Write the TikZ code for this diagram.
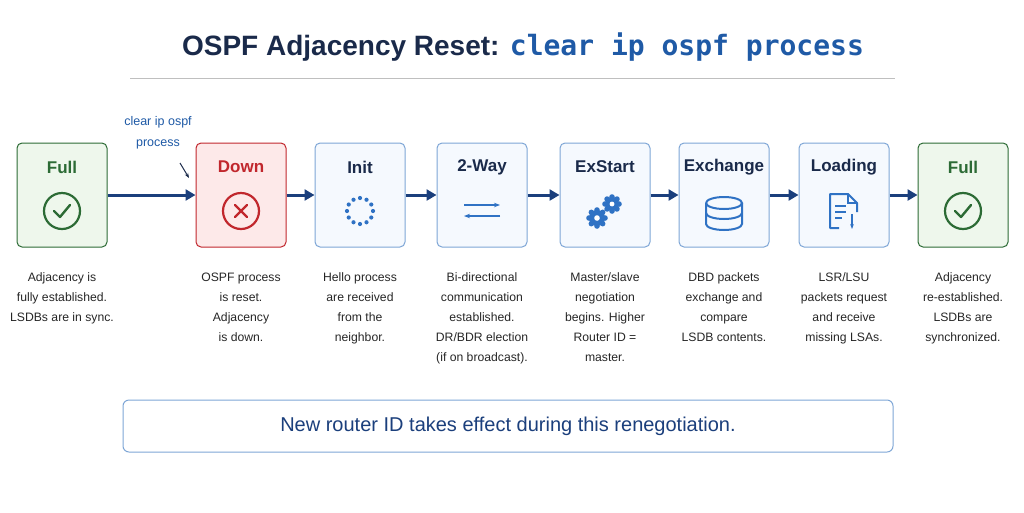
\documentclass[tikz,border=0pt]{standalone}
\usepackage{fontspec}
\setmainfont{Liberation Sans}
\setmonofont{DejaVu Sans Mono}
\usetikzlibrary{arrows.meta}
\definecolor{navy}{HTML}{1A2A4A}
\definecolor{cmdblue}{HTML}{1F5AA6}
\definecolor{flow}{HTML}{1B3F7C}
\definecolor{okgreen}{HTML}{2C6B35}
\definecolor{okfill}{HTML}{EEF7EC}
\definecolor{errred}{HTML}{C1272D}
\definecolor{errfill}{HTML}{FDE9E9}
\definecolor{stedge}{HTML}{7EA6D6}
\definecolor{stfill}{HTML}{F5F9FE}
\definecolor{icon}{HTML}{2F72C4}
\begin{document}
\begin{tikzpicture}[x=1pt,y=-1pt,
	state/.style={draw=stedge, fill=stfill, rounded corners=5pt, line width=1pt, minimum width=90pt, minimum height=104pt, inner sep=0pt},
	ok/.style={state, draw=okgreen, fill=okfill},
	err/.style={state, draw=errred, fill=errfill},
	title/.style={font=\bfseries\fontsize{17}{17}\selectfont, text=navy},
	desc/.style={align=center, font=\fontsize{12.2}{20}\selectfont, text=black!85, anchor=north},
	connect/.style={-{Triangle[length=10pt,width=11pt]}, line width=3pt, draw=flow},
	ic/.style={line width=2pt, draw=icon}
	]
	\useasboundingbox (0,0) rectangle (1024,512);

	% Title
	\node[font=\bfseries\fontsize{28}{28}\selectfont, text=navy] (head) at (523,47)
		{OSPF Adjacency Reset: \textcolor{cmdblue}{\ttfamily clear ip ospf process}};
	\draw[black!25, line width=1pt] (130,78) -- (895,78);

	% States
	\node[ok]    (full1)  at (62,195)  {};
	\node[err]   (down)   at (241,195) {};
	\node[state] (init)   at (360,195) {};
	\node[state] (twoway) at (482,195) {};
	\node[state] (exst)   at (605,195) {};
	\node[state] (exch)   at (724,195) {};
	\node[state] (load)   at (844,195) {};
	\node[ok]    (full2)  at (963,195) {};

	% State names
	\node[title, text=okgreen] at (62,167)  {Full};
	\node[title, text=errred]  at (241,167) {Down};
	\node[title] at (360,167) {Init};
	\node[title] at (482,167) {2-Way};
	\node[title] at (605,167) {ExStart};
	\node[title] at (724,167) {Exchange};
	\node[title] at (844,167) {Loading};
	\node[title, text=okgreen] at (963,167) {Full};

	% Icons
	\foreach \cx/\col in {62/okgreen, 963/okgreen}{
		\draw[line width=2.2pt, draw=\col] (\cx,211) circle (18);
		\draw[line width=2.4pt, draw=\col, line cap=round, line join=round] (\cx-8,211) -- (\cx-2,217) -- (\cx+8,205);
	}
	\draw[line width=2.2pt, draw=errred] (241,211) circle (18);
	\draw[line width=2.4pt, draw=errred, line cap=round] (235,205) -- (247,217) (247,205) -- (235,217);
	\foreach \a in {0,30,...,330}
		\fill[icon] (360,211) ++(\a:13) circle (2.1);
	\draw[ic, -{Stealth[length=6pt]}] (464,205) -- (500,205);
	\draw[ic, -{Stealth[length=6pt]}] (500,216) -- (464,216);
	\foreach \gx/\gy/\r in {597/218/8, 612/204/7}{
		\foreach \a in {0,45,...,315}
			\fill[icon] (\gx,\gy) ++(\a:\r) circle (2.8);
		\fill[icon] (\gx,\gy) circle (\r);
		\fill[white] (\gx,\gy) circle (\r*0.35);
	}
	\draw[ic] (706,203) arc[start angle=180, end angle=0, x radius=18, y radius=-6]
		arc[start angle=0, end angle=-180, x radius=18, y radius=-6];
	\draw[ic] (706,203) -- (706,224) arc[start angle=180, end angle=360, x radius=18, y radius=-6] -- (742,203);
	\draw[ic] (706,213) arc[start angle=180, end angle=360, x radius=18, y radius=-6];
	\draw[ic, line join=round] (839,228) -- (830,228) -- (830,194) -- (848,194) -- (857,203) -- (857,212);
	\draw[ic] (848,194) -- (848,203) -- (857,203);
	\draw[ic, line width=1.6pt] (835,206) -- (846,206) (835,212) -- (846,212) (835,218) -- (842,218);
	\draw[ic, line width=1.6pt, -{Stealth[length=5pt]}] (852,214) -- (852,229);

	% Connections
	\draw[connect] (full1) -- (down);
	\draw[connect] (down) -- (init);
	\draw[connect] (init) -- (twoway);
	\draw[connect] (twoway) -- (exst);
	\draw[connect] (exst) -- (exch);
	\draw[connect] (exch) -- (load);
	\draw[connect] (load) -- (full2);

	% Trigger note
	\node[align=center, text=cmdblue, font=\fontsize{12.5}{21}\selectfont] (cmd) at (158,133) {clear ip ospf\\process};
	\coordinate (tip) at (189,178);
	\draw[navy, line width=1pt, -{Stealth[length=5pt]}] (180,163) -- (tip);

	% Descriptions
	\node[desc] at (62,269)  {Adjacency is\\fully established.\\LSDBs are in sync.};
	\node[desc] at (241,269) {OSPF process\\is reset.\\Adjacency\\is down.};
	\node[desc] at (360,269) {Hello process\\are received\\from the\\neighbor.};
	\node[desc] at (482,269) {Bi-directional\\communication\\established.\\DR/BDR election\\(if on broadcast).};
	\node[desc] at (605,269) {Master/slave\\negotiation\\begins. Higher\\Router ID =\\master.};
	\node[desc] at (724,269) {DBD packets\\exchange and\\compare\\LSDB contents.};
	\node[desc] at (844,269) {LSR/LSU\\packets request\\and receive\\missing LSAs.};
	\node[desc] at (963,269) {Adjacency\\re-established.\\LSDBs are\\synchronized.};

	% Note
	\node[draw=stedge, fill=white, rounded corners=6pt, line width=1pt, minimum width=770pt, minimum height=52pt,
		text=flow, font=\fontsize{20}{20}\selectfont] (note) at (508,426)
		{New router ID takes effect during this renegotiation.};
\end{tikzpicture}
\end{document}
